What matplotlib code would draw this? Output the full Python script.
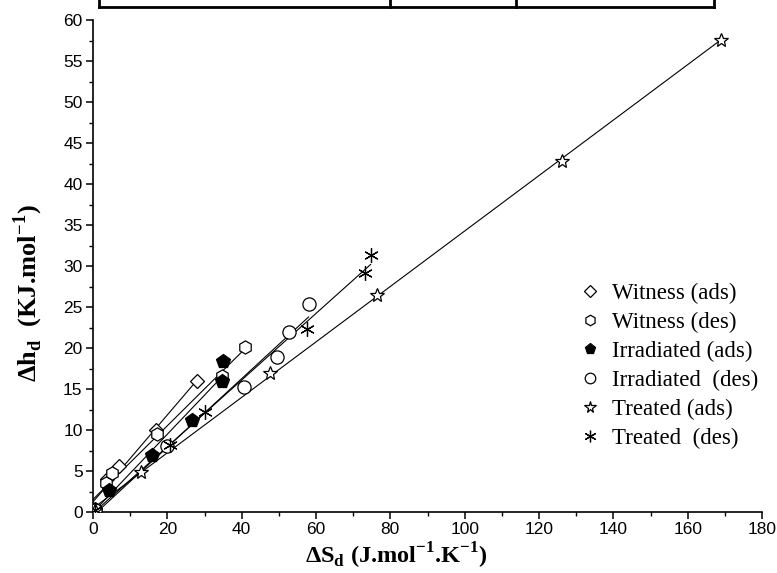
import numpy as np
import matplotlib
matplotlib.use("Agg")
import matplotlib.pyplot as plt
from matplotlib.lines import Line2D

# ---- data ----
witness_ads_x = [0.5, 3.8, 7.0, 16.9, 28.1]
witness_ads_y = [0.4, 4.0, 5.6, 10.0, 16.0]
witness_des_x = [0.5, 3.4, 5.1, 17.1, 34.6, 41.0]
witness_des_y = [0.4, 3.5, 4.8, 9.5, 16.6, 20.1]
irr_ads_x = [0.5, 4.4, 15.9, 26.7, 34.6, 35.1]
irr_ads_y = [0.3, 2.7, 7.0, 11.2, 16.0, 18.4]
irr_des_x = [0.5, 19.9, 40.5, 49.6, 52.7, 58.0]
irr_des_y = [0.2, 8.0, 15.2, 18.9, 22.0, 25.4]
tr_ads_x = [0.5, 12.8, 47.6, 76.3, 126.1, 169.0]
tr_ads_y = [0.2, 4.9, 16.9, 26.5, 42.8, 57.6]
tr_des_x = [0.5, 20.7, 30.0, 57.5, 73.2, 74.7]
tr_des_y = [0.2, 8.2, 12.2, 22.3, 29.1, 31.3]

labels = ['Witness (ads)', 'Witness (des)', 'Irradiated (ads)',
          'Irradiated  (des)', 'Treated (ads)', 'Treated  (des)']
xticks = [0, 20, 40, 60, 80, 100, 120, 140, 160, 180]
yticks = [0, 5, 10, 15, 20, 25, 30, 35, 40, 45, 50, 55, 60]

series = [
    (witness_ads_x, witness_ads_y, dict(marker='D', ms=7.5, mfc='white', mec='black')),
    (witness_des_x, witness_des_y, dict(marker='h', ms=9.5, mfc='white', mec='black')),
    (irr_ads_x, irr_ads_y, dict(marker='p', ms=10, mfc='black', mec='black')),
    (irr_des_x, irr_des_y, dict(marker='o', ms=9.5, mfc='white', mec='black')),
    (tr_ads_x, tr_ads_y, dict(marker='*', ms=10.5, mfc='white', mec='black')),
    (tr_des_x, tr_des_y, dict(marker=(6, 2, 0), ms=10.5, mfc='black', mec='black')),
]

fig = plt.figure(figsize=(7.77, 5.73), dpi=100)
ax = fig.add_axes([93/777, 1-512/573, (762-93)/777, (512-20)/573])

handles = []
for (x, y, st), lab in zip(series, labels):
    x = np.array(x); y = np.array(y)
    k, b = np.polyfit(x, y, 1)
    xx = np.array([0, x.max()])
    ax.plot(xx, k*xx + b, color='black', lw=0.8, zorder=2)
    ax.plot(x, y, ls='none', mew=0.9, zorder=3, **st)
    st2 = dict(st)
    st2['ms'] = st['ms'] * 0.8
    handles.append(Line2D([], [], ls='none', mew=0.9, label=lab, **st2))

ax.set_xlim(0, 180)
ax.set_ylim(0, 60)
ax.set_xticks(xticks)
ax.set_yticks(yticks)
ax.set_xticks(np.arange(10, 180, 20), minor=True)
ax.set_yticks(np.arange(2.5, 60, 5), minor=True)
for s in ['top', 'right']:
    ax.spines[s].set_visible(False)
for s in ['left', 'bottom']:
    ax.spines[s].set_linewidth(1.2)
ax.tick_params(which='major', direction='out', length=5, width=1.1,
               labelsize=12.5, pad=2.5)
ax.tick_params(which='minor', direction='out', length=3, width=1.0)
for t in ax.get_xticklabels() + ax.get_yticklabels():
    t.set_family('Liberation Sans')

ax.set_xlabel(r'ΔS$_\mathregular{d}$ (J.mol$^\mathregular{-1}$.K$^\mathregular{-1}$)',
              fontdict=dict(family='Liberation Serif', weight='bold', size=17.5))
ax.set_ylabel(r'Δh$_\mathregular{d}$  (KJ.mol$^\mathregular{-1}$)',
              fontdict=dict(family='Liberation Serif', weight='bold', size=19))
ax.xaxis.set_label_coords((396-93)/669, -29/492)
ax.yaxis.set_label_coords(-48/669, (512-293)/492)

leg = ax.legend(handles=handles, loc='upper left',
                bbox_to_anchor=(579/777, 1-283/573), bbox_transform=fig.transFigure,
                frameon=False, prop={'family': 'Liberation Serif', 'size': 16.5},
                handlelength=1.0, handletextpad=0.45, labelspacing=0.34,
                borderaxespad=0, borderpad=0)

# partial table border at top (cropped from source page)
ytab = 1 - 7/573
fig.add_artist(Line2D([99/777, 714/777], [ytab, ytab], color='black', lw=2,
                      transform=fig.transFigure))
for xv in [99, 390, 516, 714]:
    fig.add_artist(Line2D([xv/777, xv/777], [ytab, 1.0], color='black', lw=2,
                          transform=fig.transFigure))

fig.savefig('out.png', dpi=100)
